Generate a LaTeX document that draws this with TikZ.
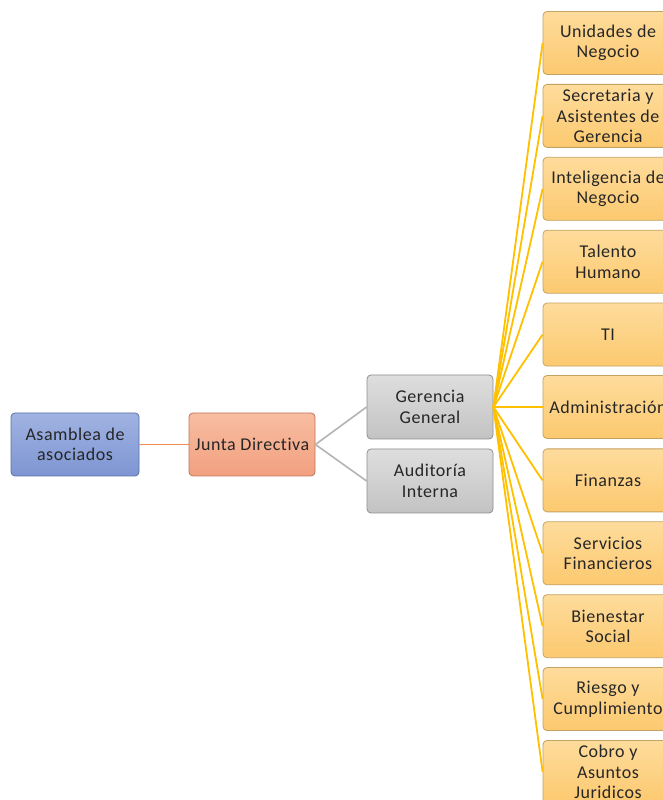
\documentclass[tikz,border=0pt]{standalone}
\usepackage{fontspec}
\setmainfont{Carlito}[LetterSpace=3, Ligatures={NoCommon,NoDiscretionary}]
\usetikzlibrary{shadings}
\definecolor{txt}{HTML}{262626}
\definecolor{bluetop}{HTML}{A0B3E2}
\definecolor{bluebot}{HTML}{7E95D2}
\definecolor{blueln}{HTML}{5A6FA6}
\definecolor{saltop}{HTML}{F8BDA2}
\definecolor{salbot}{HTML}{F2A07F}
\definecolor{salln}{HTML}{BF7558}
\definecolor{graytop}{HTML}{DEDEDE}
\definecolor{graybot}{HTML}{C3C3C3}
\definecolor{grayln}{HTML}{8E8E8E}
\definecolor{yeltop}{HTML}{FEDC9C}
\definecolor{yelbot}{HTML}{FCC96F}
\definecolor{yelln}{HTML}{C6A260}
\definecolor{yline}{HTML}{FFC000}
\definecolor{oline}{HTML}{F08A4B}
\definecolor{gline}{HTML}{B4B4B4}
\tikzset{
  x=1pt, y=1pt,
  box/.style={rounded corners=4pt, align=center, text=txt, inner sep=0pt,
    font=\fontsize{18}{20.5}\selectfont, line width=0.8pt},
  bluebox/.style={box, draw=blueln, top color=bluetop, bottom color=bluebot,
    minimum width=128pt, minimum height=63pt},
  salbox/.style={box, draw=salln, top color=saltop, bottom color=salbot,
    minimum width=126pt, minimum height=63pt},
  graybox/.style={box, draw=grayln, top color=graytop, bottom color=graybot,
    minimum width=126pt, minimum height=64pt},
  yelbox/.style={box, draw=yelln, top color=yeltop, bottom color=yelbot,
    minimum width=130pt, minimum height=63pt},
  yconn/.style={draw=yline, line width=1.8pt},
  oconn/.style={draw=oline, line width=1.4pt},
  gconn/.style={draw=gline, line width=1.6pt}
}
\begin{document}
\begin{tikzpicture}
\useasboundingbox (0,0) rectangle (663,800);
\clip (0,0) rectangle (663,800);
\fill[white] (0,0) rectangle (663,800);
\node[bluebox] (asam) at (75,355.5) {Asamblea de\\asociados};
\node[salbox] (junta) at (252,355.5) {Junta Directiva};
\node[graybox] (ger) at (430,393) {Gerencia\\General};
\node[graybox] (aud) at (430,319) {Auditoría\\Interna};
\node[yelbox] (y1) at (608,757) {Unidades de\\Negocio};
\node[yelbox] (y2) at (608,684.1) {Secretaria y\\Asistentes de\\Gerencia};
\node[yelbox] (y3) at (608,611.2) {Inteligencia de\\Negocio};
\node[yelbox] (y4) at (608,538.3) {Talento\\Humano};
\node[yelbox] (y5) at (608,465.4) {TI};
\node[yelbox] (y6) at (608,393) {Administración};
\node[yelbox] (y7) at (608,319.6) {Finanzas};
\node[yelbox] (y8) at (608,246.7) {Servicios\\Financieros};
\node[yelbox] (y9) at (608,173.8) {Bienestar\\Social};
\node[yelbox] (y10) at (608,100.9) {Riesgo y\\Cumplimiento};
\node[yelbox] (y11) at (608,28) {Cobro y\\Asuntos\\Juridicos};
\draw[oconn] (asam.east) -- (junta.west);
\draw[gconn] (junta.east) -- (ger.west);
\draw[gconn] (junta.east) -- (aud.west);
\foreach \i in {1,...,11} {
  \draw[yconn] (ger.east) -- (y\i.west);
}
\end{tikzpicture}
\end{document}
